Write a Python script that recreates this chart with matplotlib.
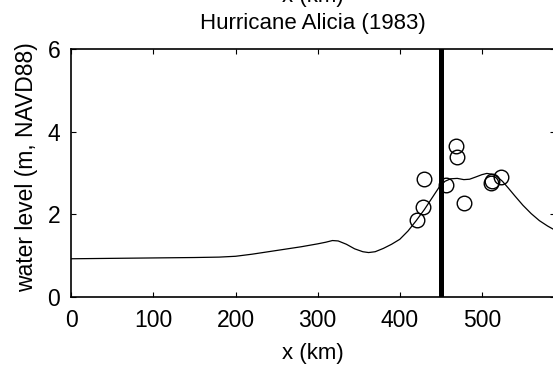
import matplotlib
matplotlib.use("Agg")
import matplotlib.pyplot as plt

plt.rcParams['font.family'] = ['Liberation Sans', 'DejaVu Sans']

# model water level along x
line_x = [0, 50, 100, 150, 180, 200, 220, 240, 260, 280, 300, 310, 318, 325, 335, 345,
          355, 362, 370, 380, 390, 400, 410, 420, 430, 440, 448, 455, 462, 470, 478,
          485, 492, 500, 506, 512, 518, 525, 532, 540, 550, 560, 570, 580, 589]
line_y = [0.93, 0.94, 0.95, 0.96, 0.97, 0.99, 1.04, 1.10, 1.16, 1.22, 1.29, 1.33, 1.37,
          1.36, 1.28, 1.17, 1.10, 1.08, 1.10, 1.18, 1.28, 1.40, 1.60, 1.85, 2.12, 2.42,
          2.66, 2.80, 2.86, 2.87, 2.84, 2.85, 2.90, 2.96, 2.99, 2.97, 2.92, 2.80, 2.64,
          2.45, 2.22, 2.02, 1.85, 1.72, 1.62]

# observations
obs_x = [421, 428, 430, 456, 468, 470, 478, 511, 512, 523]
obs_y = [1.87, 2.19, 2.85, 2.71, 3.64, 3.38, 2.27, 2.75, 2.81, 2.90]

landfall_x = 450
xticks = [0, 100, 200, 300, 400, 500]
yticks = [0, 2, 4, 6]

W, H = 553, 365
fig = plt.figure(figsize=(W / 100, H / 100), dpi=100)
ax = fig.add_axes([71.3 / W, (H - 297.3) / H, (555 - 71.3) / W, (297.3 - 48.7) / H])

ax.plot(line_x, line_y, color='black', lw=0.9, solid_joinstyle='round')
ax.plot(obs_x, obs_y, 'o', mfc='none', mec='black', ms=10.5, mew=1.0)
ax.axvline(landfall_x, color='black', lw=3.6)

ax.set_xlim(0, 589)
ax.set_ylim(0, 6)
ax.set_xticks(xticks)
ax.set_yticks(yticks)
ax.tick_params(direction='in', top=True, right=True, length=3.5, width=0.8,
               labelsize=16.5)
ax.tick_params(axis='x', pad=8.5)
ax.tick_params(axis='y', pad=8)
for s in ax.spines.values():
    s.set_linewidth(1.2)

cx = 313 / W
fig.text(cx, 1 - 359 / H, 'x (km)', fontsize=16, ha='center', va='baseline')
fig.text(33 / W, 1 - 166.7 / H, 'water level (m, NAVD88)', fontsize=16.5,
         rotation=90, rotation_mode='anchor', ha='center', va='baseline')
fig.text(cx, 1 - 29.3 / H, 'Hurricane Alicia (1983)', fontsize=16,
         ha='center', va='baseline')
fig.text(cx, 1 - 2 / H, 'x (km)', fontsize=16, ha='center', va='baseline')

fig.savefig('out.png', dpi=100)
